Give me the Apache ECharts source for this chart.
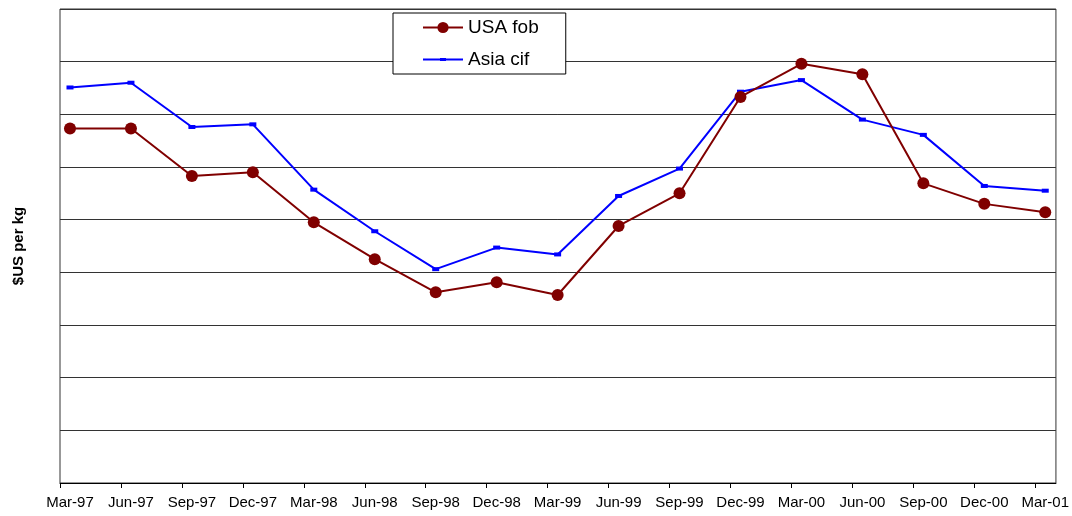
<!DOCTYPE html>
<html>
<head>
<meta charset="utf-8">
<script src="https://cdn.jsdelivr.net/npm/echarts@6/dist/echarts.min.js"></script>
<style>
  html, body { margin: 0; padding: 0; background: #ffffff; }
  #chart { width: 1072px; height: 516px; }
</style>
</head>
<body>
<div id="chart"></div>
<script>
// Quarterly prices, $US per kg
const categories = ['Mar-97', 'Jun-97', 'Sep-97', 'Dec-97', 'Mar-98', 'Jun-98', 'Sep-98', 'Dec-98',
  'Mar-99', 'Jun-99', 'Sep-99', 'Dec-99', 'Mar-00', 'Jun-00', 'Sep-00', 'Dec-00', 'Mar-01'];
const usaFob = [6.73, 6.73, 5.83, 5.90, 4.95, 4.25, 3.62, 3.81, 3.57, 4.88, 5.50, 7.33, 7.96, 7.76, 5.69, 5.30, 5.14];
const asiaCif = [7.51, 7.60, 6.76, 6.81, 5.57, 4.78, 4.06, 4.47, 4.34, 5.45, 5.97, 7.43, 7.65, 6.90, 6.61, 5.64, 5.55];

// Points sit inside each quarter; tick marks fall at the start of each quarter slot
const slotOffset = 10 / 61;
const tickValues = categories.map((c, i) => i - slotOffset);
const labelValues = categories.map((c, i) => i);
const toPairs = arr => arr.map((v, i) => [i, v]);

// Legend glyph for the blue series: a thin line with a small flat marker in the middle
const asiaLegendIcon = 'path://M0,6 H40 V8 H0 Z M17,5.5 H23 V8.5 H17 Z';

const chart = echarts.init(document.getElementById('chart'), null, { renderer: 'canvas' });
chart.setOption({
  animation: false,
  backgroundColor: '#ffffff',
  textStyle: { fontFamily: 'Liberation Sans, Arial, sans-serif' },
  grid: {
    left: 60, right: 15, top: 9, bottom: 33,
    show: true, borderColor: '#333333', borderWidth: 1, backgroundColor: '#ffffff'
  },
  legend: {
    orient: 'vertical',
    left: 393, top: 13,
    padding: [5, 27, 5, 29],
    itemGap: 13,
    itemWidth: 40, itemHeight: 14,
    borderColor: '#000000', borderWidth: 1,
    backgroundColor: '#ffffff',
    textStyle: { fontSize: 19, color: '#000000', fontFamily: 'Liberation Sans, Arial, sans-serif' },
    data: ['USA fob', { name: 'Asia cif', icon: asiaLegendIcon }]
  },
  xAxis: {
    type: 'value',
    min: -slotOffset,
    max: 16 + 10.7 / 61,
    axisLine: { show: true, lineStyle: { color: '#000000', width: 1 } },
    axisTick: { show: true, length: 5, customValues: tickValues, lineStyle: { color: '#000000' } },
    axisLabel: {
      customValues: labelValues,
      margin: 12,
      fontSize: 15,
      color: '#000000',
      formatter: v => categories[Math.round(v)]
    },
    splitLine: { show: false }
  },
  yAxis: {
    type: 'value',
    min: 0, max: 9, interval: 1,
    name: '$US per kg',
    nameLocation: 'middle',
    nameGap: 34,
    nameRotate: 90,
    nameTextStyle: { fontSize: 15, fontWeight: 'bold', color: '#000000' },
    axisLine: { show: false },
    axisTick: { show: false },
    axisLabel: { show: false },
    splitLine: { show: true, lineStyle: { color: '#333333', width: 1 } }
  },
  series: [
    {
      name: 'USA fob',
      type: 'line',
      data: toPairs(usaFob),
      symbol: 'circle',
      symbolSize: 12,
      lineStyle: { color: '#800000', width: 2 },
      itemStyle: { color: '#800000' },
      z: 3
    },
    {
      name: 'Asia cif',
      type: 'line',
      data: toPairs(asiaCif),
      symbol: 'rect',
      symbolSize: [7, 4],
      lineStyle: { color: '#0000ff', width: 2 },
      itemStyle: { color: '#0000ff' },
      z: 2
    }
  ]
});
</script>
</body>
</html>
